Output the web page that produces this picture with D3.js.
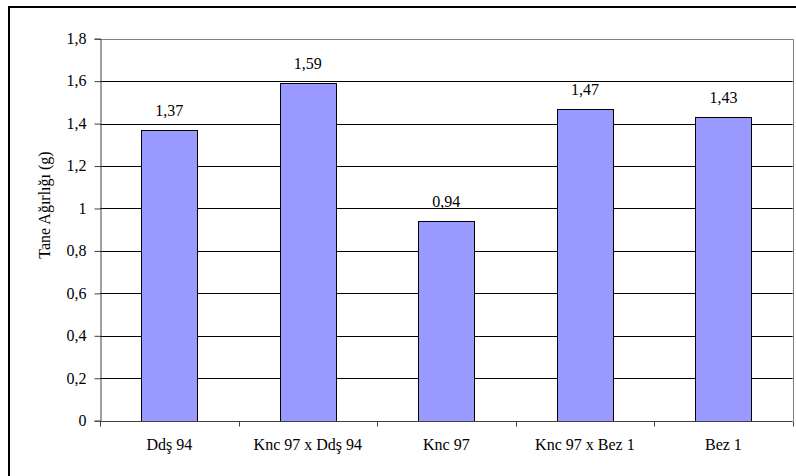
<!DOCTYPE html>
<html><head><meta charset="utf-8">
<script src="https://cdn.jsdelivr.net/npm/d3@7"></script>
<style>body{margin:0;background:#fff}svg{display:block}svg text{font-family:"Liberation Serif","Times New Roman",serif;}</style>
</head><body>
<script>
const categories = ["Ddş 94", "Knc 97 x Ddş 94", "Knc 97", "Knc 97 x Bez 1", "Bez 1"];
const values = [1.37, 1.59, 0.94, 1.47, 1.43];
const yTicks = [0, 0.2, 0.4, 0.6, 0.8, 1, 1.2, 1.4, 1.6, 1.8];
const yTitle = "Tane Ağırlığı (g)";

const W = 796, H = 476;
const m = {left: 100, right: 796 - 792.7, top: 38.7, bottom: 476 - 420.7};
const svg = d3.select("body").append("svg").attr("width", W).attr("height", H);
const FS = "16px";

svg.append("rect").attr("x", 9).attr("y", 7).attr("width", 800).attr("height", 480)
  .attr("fill", "#fff").attr("stroke", "#000").attr("stroke-width", 2);

const x = d3.scaleBand().domain(categories).range([m.left, W - m.right]).paddingInner(0.595).paddingOuter(0.2975);
const y = d3.scaleLinear().domain([0, 1.8]).range([H - m.bottom, m.top]);
const fmt = d => String(d).replace(".", ",");

// gridlines
svg.append("g").selectAll("line").data(yTicks.filter(d => d > 0 && d < 1.8)).join("line")
  .attr("x1", m.left).attr("x2", W - m.right)
  .attr("y1", d => Math.round(y(d)) + 0.5).attr("y2", d => Math.round(y(d)) + 0.5)
  .attr("stroke", "#000").attr("stroke-width", 1);
// plot border top/right gray
svg.append("path")
  .attr("d", `M${m.left},${Math.round(y(1.8)) + 0.5}H${Math.round(W - m.right) + 0.5}V${Math.round(y(0))}`)
  .attr("fill", "none").attr("stroke", "#808080").attr("stroke-width", 1);

// bars
svg.append("g").selectAll("rect").data(values).join("rect")
  .attr("x", (d, i) => Math.round(x(categories[i])) + 0.5)
  .attr("width", Math.round(x.bandwidth()))
  .attr("y", d => Math.round(y(d)) + 0.5)
  .attr("height", d => Math.round(y(0)) - Math.round(y(d)))
  .attr("fill", "#9999FF").attr("stroke", "#000").attr("stroke-width", 1);

// value labels
svg.append("g").selectAll("text").data(values).join("text")
  .attr("x", (d, i) => x(categories[i]) + x.bandwidth() / 2)
  .attr("y", d => y(d) - 14)
  .attr("text-anchor", "middle").style("font-size", FS)
  .attr("fill", "#000").text(d => fmt(d));

// y axis
const yAxis = d3.axisLeft(y).tickValues(yTicks).tickSize(6).tickPadding(8).tickFormat(fmt);
const gy = svg.append("g").attr("transform", `translate(${m.left + 0.5},0)`).call(yAxis);
gy.attr("font-family", null).attr("font-size", null);
gy.selectAll("text").style("font-size", FS).attr("fill", "#000").attr("dy", "0.3em");
gy.select(".domain").attr("stroke", "#404040");
gy.selectAll(".tick line").attr("stroke", "#404040");

// x axis
const xb = d3.scaleLinear().domain([0, categories.length]).range([m.left, W - m.right]);
const gx = svg.append("g").attr("transform", `translate(0,${Math.round(y(0)) + 0.5})`);
gx.append("line").attr("x1", m.left).attr("x2", W - m.right).attr("stroke", "#404040");
gx.selectAll("line.t").data(d3.range(categories.length + 1)).join("line").attr("class", "t")
  .attr("x1", d => Math.round(xb(d)) + 0.5).attr("x2", d => Math.round(xb(d)) + 0.5)
  .attr("y1", 0).attr("y2", 5).attr("stroke", "#404040");
gx.selectAll("text").data(categories).join("text")
  .attr("x", d => x(d) + x.bandwidth() / 2).attr("y", 28)
  .attr("text-anchor", "middle").style("font-size", FS)
  .attr("fill", "#000").text(d => d);

// y title
svg.append("text").attr("transform", `translate(50,205) rotate(-90)`)
  .attr("text-anchor", "middle").style("font-size", FS)
  .attr("fill", "#000").text(yTitle);
</script>
</body></html>
